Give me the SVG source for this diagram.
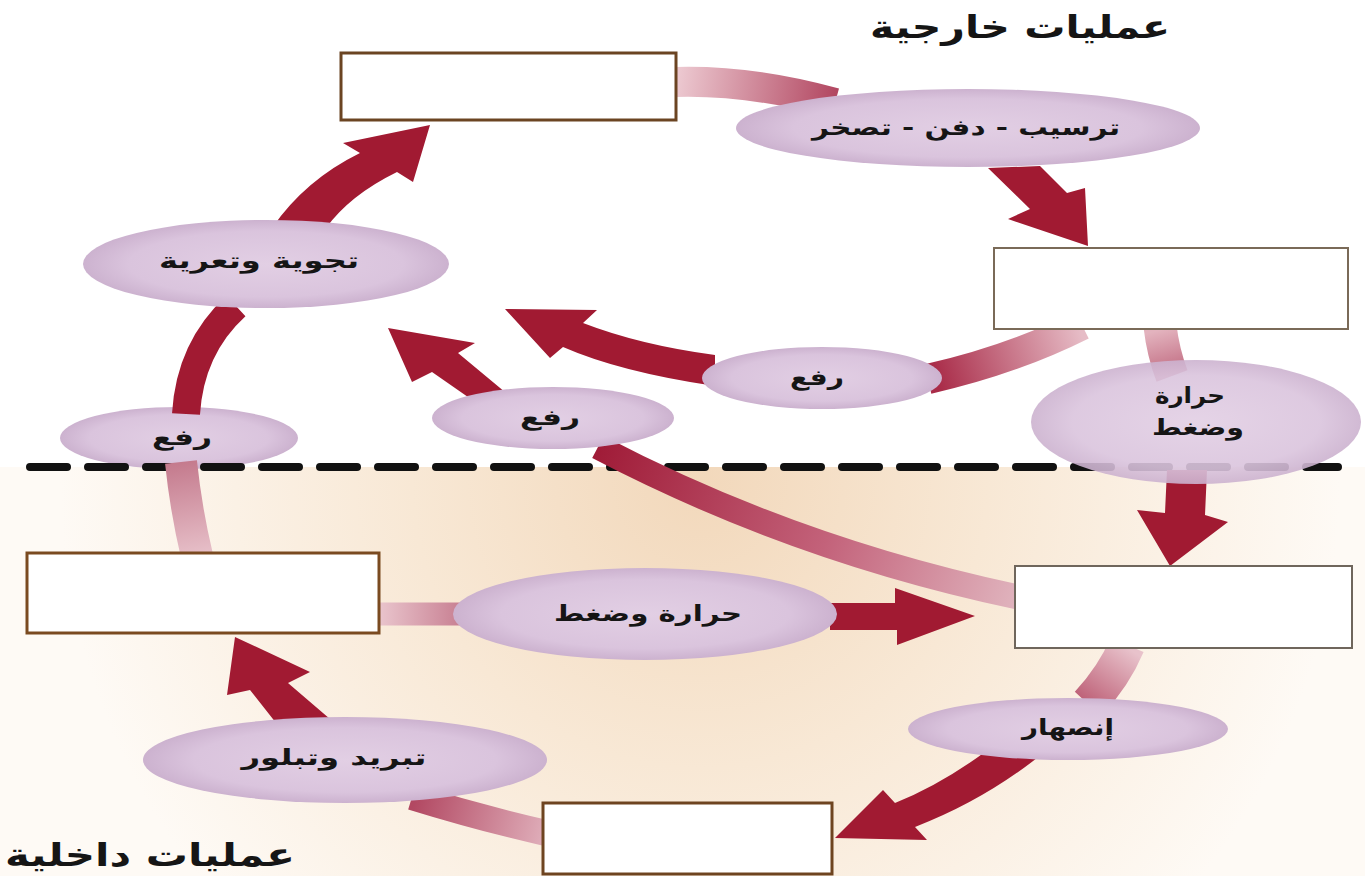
<svg xmlns="http://www.w3.org/2000/svg" width="1365" height="876" viewBox="0 0 1365 876">
<defs>
<style>
.lbl{font-family:"DejaVu Sans","Noto Sans",sans-serif;font-weight:bold;font-size:22px;fill:#151515;text-anchor:middle}
.ttl{font-family:"DejaVu Sans","Noto Sans",sans-serif;font-weight:bold;font-size:32px;fill:#151515;text-anchor:middle}
.ell{fill:url(#ellG)}
.box{fill:#ffffff}
.dark{fill:#a11a32}
.band{fill:none;stroke-linecap:butt}
</style>
<radialGradient id="ellG" cx="0.5" cy="0.5" r="0.5">
<stop offset="0" stop-color="#e2cfe4"/>
<stop offset="0.75" stop-color="#dac4dd"/>
<stop offset="1" stop-color="#ccb2cf"/>
</radialGradient>
<radialGradient id="bgG" gradientUnits="userSpaceOnUse" cx="700" cy="480" r="640">
<stop offset="0" stop-color="#f2d8bb"/>
<stop offset="0.45" stop-color="#f8e8d5"/>
<stop offset="1" stop-color="#fefaf5"/>
</radialGradient>
<linearGradient id="g1" gradientUnits="userSpaceOnUse" x1="678" y1="82" x2="835" y2="102"><stop offset="0" stop-color="#ecc8d0"/><stop offset="1" stop-color="#b24761"/></linearGradient>
<linearGradient id="g2" gradientUnits="userSpaceOnUse" x1="1160" y1="330" x2="1172" y2="375"><stop offset="0" stop-color="#e3b3be"/><stop offset="1" stop-color="#c06a80"/></linearGradient>
<linearGradient id="g3" gradientUnits="userSpaceOnUse" x1="1128" y1="648" x2="1088" y2="705"><stop offset="0" stop-color="#e8c2cb"/><stop offset="1" stop-color="#bd5f76"/></linearGradient>
<linearGradient id="g4" gradientUnits="userSpaceOnUse" x1="545" y1="833" x2="415" y2="798"><stop offset="0" stop-color="#dfadb9"/><stop offset="1" stop-color="#b24862"/></linearGradient>
<linearGradient id="g5" gradientUnits="userSpaceOnUse" x1="197" y1="556" x2="180" y2="462"><stop offset="0" stop-color="#e7c0c9"/><stop offset="1" stop-color="#c47a8d"/></linearGradient>
<linearGradient id="g6" gradientUnits="userSpaceOnUse" x1="1080" y1="330" x2="935" y2="378"><stop offset="0" stop-color="#e6bcc6"/><stop offset="1" stop-color="#a92b48"/></linearGradient>
<linearGradient id="g7" gradientUnits="userSpaceOnUse" x1="1018" y1="597" x2="600" y2="448"><stop offset="0" stop-color="#e0b3bd"/><stop offset="0.45" stop-color="#c3627a"/><stop offset="1" stop-color="#a01c38"/></linearGradient>
<linearGradient id="g8" gradientUnits="userSpaceOnUse" x1="380" y1="614" x2="458" y2="614"><stop offset="0" stop-color="#e9c4cc"/><stop offset="1" stop-color="#c98294"/></linearGradient>
</defs>

<rect x="0" y="0" width="1365" height="876" fill="#ffffff"/>
<rect x="0" y="467" width="1365" height="409" fill="url(#bgG)"/>

<g id="titles">
<text class="ttl" x="1020" y="38" textLength="300" lengthAdjust="spacingAndGlyphs">عمليات خارجية</text>
<text class="ttl" x="150" y="866" textLength="290" lengthAdjust="spacingAndGlyphs">عمليات داخلية</text>
</g>

<g id="e-rafa-left"><ellipse class="ell" cx="179" cy="438" rx="119" ry="31"/><text class="lbl" x="182" y="445" textLength="60" lengthAdjust="spacingAndGlyphs">رفع</text></g>

<g id="divider">
<line x1="30" y1="467" x2="1338" y2="467" stroke="#111" stroke-width="8" stroke-linecap="round" stroke-dasharray="37 21"/>
</g>

<g id="connectors">
<path class="band" d="M 676 82 Q 752 80 835 103" stroke="url(#g1)" stroke-width="30"/>
<path class="band" d="M 1160 326 Q 1163 352 1172 376" stroke="url(#g2)" stroke-width="33"/>
<path class="band" d="M 1127 645 Q 1114 676 1088 704" stroke="url(#g3)" stroke-width="36"/>
<path class="band" d="M 546 833 Q 480 818 412 797" stroke="url(#g4)" stroke-width="26"/>
<path class="band" d="M 197 556 Q 186 510 181 462" stroke="url(#g5)" stroke-width="32"/>
<path class="band" d="M 1082 325 Q 1012 360 928 379" stroke="url(#g6)" stroke-width="30"/>
<path class="band" d="M 1018 597 Q 795 550 598 447" stroke="url(#g7)" stroke-width="25"/>
<path class="band" d="M 376 614 L 462 614" stroke="url(#g8)" stroke-width="23"/>
<polygon class="dark" points="988,168 1040,166 1067,193 1085,188 1088,246 1008,219 1030,209"/>
<polygon class="dark" points="1167,470 1207,470 1205,515 1228,522 1170,566 1137,510 1165,513"/>
<path class="dark" d="M 985 752 Q 940 785 895 803 L 883 790 L 835 838 L 927 840 L 915 827 Q 985 800 1042 754 Z"/>
<path class="dark" d="M 280 728 L 250 690 L 227 695 L 235 637 L 310 672 L 288 683 L 337 725 Z"/>
<path class="band" d="M 186 414 Q 190 348 236 306" stroke="#a11a32" stroke-width="28"/>
<path class="dark" d="M 272 228 Q 305 180 360 153 L 343 143 L 430 125 L 413 182 L 397 172 Q 350 195 326 228 Z"/>
<path class="dark" d="M 505 309 L 597 310 L 583 323 Q 640 345 715 355 L 715 386 Q 620 372 563 347 L 550 358 Z"/>
<path class="dark" d="M 388 328 L 475 343 L 458 353 L 512 398 L 478 404 L 432 372 L 412 382 Z"/>
<polygon class="dark" points="830,603 895,603 895,588 975,616 897,645 897,630 830,630"/>
</g>

<g id="box-top"><rect class="box" x="341" y="53" width="335" height="67" stroke="#6b4422" stroke-width="3"/></g>
<g id="box-right-top"><rect class="box" x="994" y="248" width="354" height="81" stroke="#7a6a58" stroke-width="2"/></g>
<g id="box-right-mid"><rect class="box" x="1015" y="566" width="337" height="82" stroke="#6f665c" stroke-width="2"/></g>
<g id="box-left"><rect class="box" x="27" y="553" width="352" height="80" stroke="#7a4a20" stroke-width="3"/></g>
<g id="box-bottom"><rect class="box" x="543" y="803" width="289" height="71" stroke="#6e4420" stroke-width="3"/></g>

<g id="e-tarseeb"><ellipse class="ell" cx="968" cy="128" rx="232" ry="39"/><text class="lbl" x="966" y="135" textLength="308" lengthAdjust="spacingAndGlyphs">ترسيب - دفن - تصخر</text></g>
<g id="e-tajwiya"><ellipse class="ell" cx="266" cy="264" rx="183" ry="44"/><text class="lbl" x="259" y="268" textLength="200" lengthAdjust="spacingAndGlyphs">تجوية وتعرية</text></g>
<g id="e-rafa-mid"><ellipse class="ell" cx="553" cy="418" rx="121" ry="31"/><text class="lbl" x="550" y="425" textLength="60" lengthAdjust="spacingAndGlyphs">رفع</text></g>
<g id="e-rafa-right"><ellipse class="ell" cx="822" cy="378" rx="120" ry="31"/><text class="lbl" x="817" y="385" textLength="54" lengthAdjust="spacingAndGlyphs">رفع</text></g>
<g id="e-harara-right"><ellipse class="ell" cx="1196" cy="422" rx="165" ry="62" opacity="0.9"/><text class="lbl" x="1190" y="403" textLength="70" lengthAdjust="spacingAndGlyphs">حرارة</text><text class="lbl" x="1198" y="435" textLength="92" lengthAdjust="spacingAndGlyphs">وضغط</text></g>
<g id="e-harara-mid"><ellipse class="ell" cx="645" cy="614" rx="192" ry="46"/><text class="lbl" x="648" y="621" textLength="188" lengthAdjust="spacingAndGlyphs">حرارة وضغط</text></g>
<g id="e-inshar"><ellipse class="ell" cx="1068" cy="729" rx="160" ry="31"/><text class="lbl" x="1068" y="735" textLength="92" lengthAdjust="spacingAndGlyphs">إنصهار</text></g>
<g id="e-tabreed"><ellipse class="ell" cx="345" cy="760" rx="202" ry="43"/><text class="lbl" x="334" y="765" textLength="185" lengthAdjust="spacingAndGlyphs">تبريد وتبلور</text></g>
</svg>
